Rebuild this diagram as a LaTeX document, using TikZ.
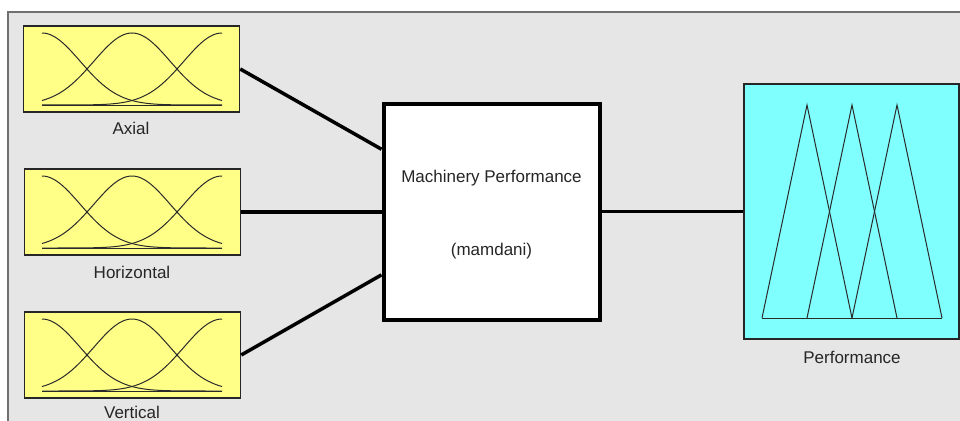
\documentclass[tikz,border=0pt]{standalone}
\usepackage{fontspec}
\setmainfont{Liberation Sans}
\usetikzlibrary{calc}
\definecolor{bggray}{HTML}{E6E6E6}
\definecolor{framegray}{HTML}{707070}
\definecolor{inyellow}{HTML}{FFFF88}
\definecolor{outcyan}{HTML}{80FFFF}
\definecolor{curvecol}{HTML}{2A2A2A}
\tikzset{
  inbox/.style={draw=black!85, line width=1.5pt, fill=inyellow, minimum width=216pt, minimum height=86pt, inner sep=0pt},
  outbox/.style={draw=black!85, line width=1.5pt, fill=outcyan, minimum width=215pt, minimum height=255pt, inner sep=0pt},
  fisbox/.style={draw=black, line width=4pt, fill=white, minimum width=216pt, minimum height=216pt, inner sep=0pt},
  lbl/.style={font=\fontsize{17}{20}\selectfont, text=black!85, inner sep=0pt},
  conn/.style={draw=black, line width=3.5pt},
  curve/.style={draw=curvecol, line width=1pt},
}
\begin{document}
\begin{tikzpicture}[x=1pt,y=-1pt]
\useasboundingbox (0,0) rectangle (960,420);
\fill[white] (0,0) rectangle (960,420);
\filldraw[fill=bggray, draw=framegray, line width=1.5pt] (8,12) rectangle (975,435);

% input boxes
\node[inbox] (ax) at (131.5,69) {};
\node[inbox] (hz) at (132.5,212) {};
\node[inbox] (vt) at (132.5,355) {};
\foreach \cy in {69,212,355}{
  \draw[curve] plot[domain=0:180,samples=61] ({42+\x},{\cy+36-72*exp(-0.5*(\x/38.2)^2)});
  \draw[curve] plot[domain=0:180,samples=61] ({42+\x},{\cy+36-72*exp(-0.5*((\x-90)/38.2)^2)});
  \draw[curve] plot[domain=0:180,samples=61] ({42+\x},{\cy+36-72*exp(-0.5*((\x-180)/38.2)^2)});
  \draw[curve] (42,\cy+36) -- (222,\cy+36);
}
\node[lbl] (axl) at (131,128) {Axial};
\node[lbl] (hzl) at (132,272) {Horizontal};
\node[lbl] (vtl) at (132,412) {Vertical};

% FIS box
\node[fisbox] (mf) at (491.5,211.5) {};
\node[lbl] (mft) at (491.5,178) {Machinery Performance};
\node[lbl] (mfm) at (491.5,251) {(mamdani)};

% output box
\node[outbox] (pf) at (851.5,211.5) {};
\draw[curve] (762,318) -- (942,318);
\draw[curve] (762,318) -- (807,105) -- (852,318);
\draw[curve] (807,318) -- (852,105) -- (897,318);
\draw[curve] (852,318) -- (897,105) -- (942,318);
\node[lbl] (pfl) at (852,357) {Performance};

% connectors
\coordinate (mfa) at ($(mf.north west)!0.217!(mf.south west)$);
\coordinate (mfv) at ($(mf.north west)!0.788!(mf.south west)$);
\draw[conn] (ax.east) -- (mfa);
\draw[conn] (hz.east) -- (hz.east -| mf.west);
\draw[conn] (vt.east) -- (mfv);
\draw[conn] (mf.east) -- (pf.west);
\end{tikzpicture}
\end{document}
